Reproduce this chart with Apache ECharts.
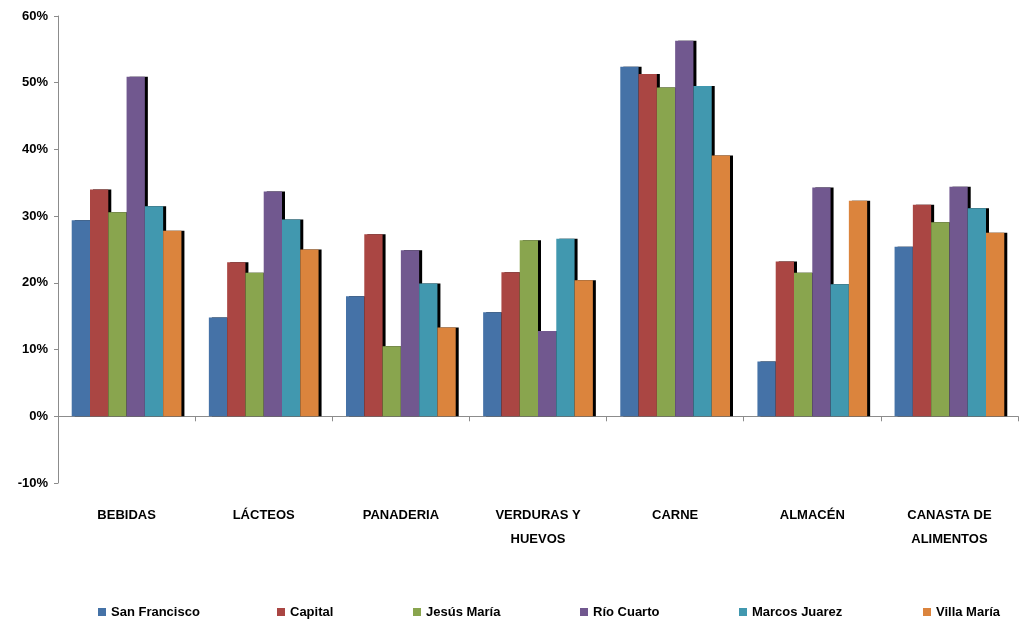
<!DOCTYPE html>
<html>
<head>
<meta charset="utf-8">
<script src="https://cdn.jsdelivr.net/npm/echarts@6/dist/echarts.min.js"></script>
<style>html,body{margin:0;padding:0;background:#fff}#c{width:1019px;height:624px}</style>
</head>
<body>
<div id="c"></div>
<script>
var categories = ['BEBIDAS', 'LÁCTEOS', 'PANADERIA', 'VERDURAS Y\nHUEVOS', 'CARNE', 'ALMACÉN', 'CANASTA DE\nALIMENTOS'];
var seriesNames = ['San Francisco', 'Capital', 'Jesús María', 'Río Cuarto', 'Marcos Juarez', 'Villa María'];
var sanFrancisco = [29.4, 14.8, 18.0, 15.6, 52.4, 8.2, 25.4];
var capital      = [34.0, 23.1, 27.3, 21.6, 51.3, 23.2, 31.7];
var jesusMaria   = [30.6, 21.5, 10.5, 26.4, 49.3, 21.5, 29.1];
var rioCuarto    = [50.9, 33.7, 24.9, 12.8, 56.3, 34.3, 34.4];
var marcosJuarez = [31.5, 29.5, 19.9, 26.6, 49.5, 19.8, 31.2];
var villaMaria   = [27.8, 25.0, 13.3, 20.4, 39.1, 32.3, 27.5];
var colors = ['#4572A7', '#AA4643', '#89A54E', '#71588F', '#4198AF', '#DB843D'];
var legendLeft = [98, 277, 413, 580, 739, 923];

var allData = [sanFrancisco, capital, jesusMaria, rioCuarto, marcosJuarez, villaMaria];
var font = '"Liberation Sans", Arial, sans-serif';

var series = seriesNames.map(function (n, i) {
  return {
    name: n,
    type: 'bar',
    xAxisIndex: 0,
    data: allData[i],
    barGap: '0%',
    barCategoryGap: '20%',
    itemStyle: {
      color: colors[i],
      borderWidth: 0,
      shadowColor: '#000',
      shadowBlur: 0,
      shadowOffsetX: 3,
      shadowOffsetY: 0
    }
  };
});

var legends = seriesNames.map(function (n, i) {
  return {
    data: [n],
    left: legendLeft[i],
    top: 605,
    icon: 'rect',
    itemWidth: 8,
    itemHeight: 8,
    padding: 0,
    selectedMode: false,
    textStyle: { fontFamily: font, fontWeight: 'bold', fontSize: 13, color: '#000', lineHeight: 14 }
  };
});

var chart = echarts.init(document.getElementById('c'), null, { renderer: 'canvas' });
chart.setOption({
  animation: false,
  color: colors,
  legend: legends,
  grid: { left: 58, right: 1, top: 16, bottom: 141, containLabel: false },
  xAxis: [
    {
      type: 'category',
      data: categories,
      axisLine: { onZero: true, lineStyle: { color: '#8c8c8c', width: 1 } },
      axisTick: { show: true, length: 5, lineStyle: { color: '#8c8c8c' } },
      axisLabel: { show: false }
    },
    {
      type: 'category',
      data: categories,
      position: 'bottom',
      axisLine: { show: false, onZero: false },
      axisTick: { show: false },
      axisLabel: {
        show: true,
        interval: 0,
        margin: 20,
        fontFamily: font,
        fontWeight: 'bold',
        fontSize: 13,
        lineHeight: 24,
        color: '#000'
      }
    }
  ],
  yAxis: {
    type: 'value',
    min: -10,
    max: 60,
    interval: 10,
    splitLine: { show: false },
    axisLine: { show: true, lineStyle: { color: '#8c8c8c' } },
    axisTick: { show: true, length: 4, lineStyle: { color: '#8c8c8c' } },
    axisLabel: {
      formatter: '{value}%',
      margin: 10,
      fontFamily: font,
      fontWeight: 'bold',
      fontSize: 13,
      color: '#000'
    }
  },
  series: series
});
</script>
</body>
</html>
